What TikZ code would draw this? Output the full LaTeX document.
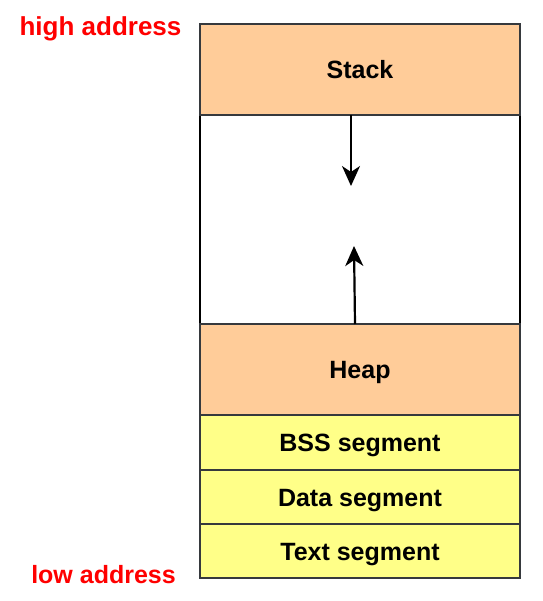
\documentclass[tikz,border=0pt]{standalone}
\usepackage{fontspec}
\setmainfont{Liberation Sans}
\usetikzlibrary{arrows.meta}
\definecolor{seggray}{HTML}{36393D}
\definecolor{orangefill}{HTML}{FFCC99}
\definecolor{yellowfill}{HTML}{FFFF88}
\tikzset{
  seg/.style={draw=seggray, line width=2pt, minimum width=320pt, inner sep=0pt, outer sep=0pt, anchor=north west, text height=18pt, text depth=0pt, font=\fontsize{25pt}{29pt}\selectfont\bfseries},
  orangeseg/.style={seg, fill=orangefill},
  yellowseg/.style={seg, fill=yellowfill},
  gapbox/.style={draw=black, line width=2pt, fill=white, minimum width=320pt, inner sep=0pt, outer sep=0pt, anchor=north west},
  addr/.style={text=red, anchor=base, font=\fontsize{26pt}{30pt}\selectfont\bfseries, inner sep=0pt},
  growarrow/.style={line width=2.2pt, -{Stealth[length=20pt,width=18pt,inset=6pt]}}
}
\begin{document}
\begin{tikzpicture}[x=1pt,y=-1pt]
\useasboundingbox (0,0) rectangle (542,601);
\node[gapbox, minimum height=209pt] (gap) at (200,115) {};
\node[orangeseg, minimum height=91pt] (stack) at (200,24) {Stack};
\node[orangeseg, minimum height=91pt] (heap) at (200,324) {Heap};
\node[yellowseg, minimum height=55pt] (bss) at (200,415) {BSS segment};
\node[yellowseg, minimum height=54pt] (data) at (200,470) {Data segment};
\node[yellowseg, minimum height=54pt] (textseg) at (200,524) {Text segment};
\node[addr] (high) at (100.5,36) {high address};
\node[addr, font=\fontsize{25pt}{29pt}\selectfont\bfseries] (low) at (103.5,583) {low address};
\coordinate (downtip) at (351,186);
\coordinate (uptip) at (354,246);
\draw[growarrow] (stack.south -| downtip) -- (downtip);
\draw[growarrow] (heap.north -| 355,0) -- (uptip);
\end{tikzpicture}
\end{document}
